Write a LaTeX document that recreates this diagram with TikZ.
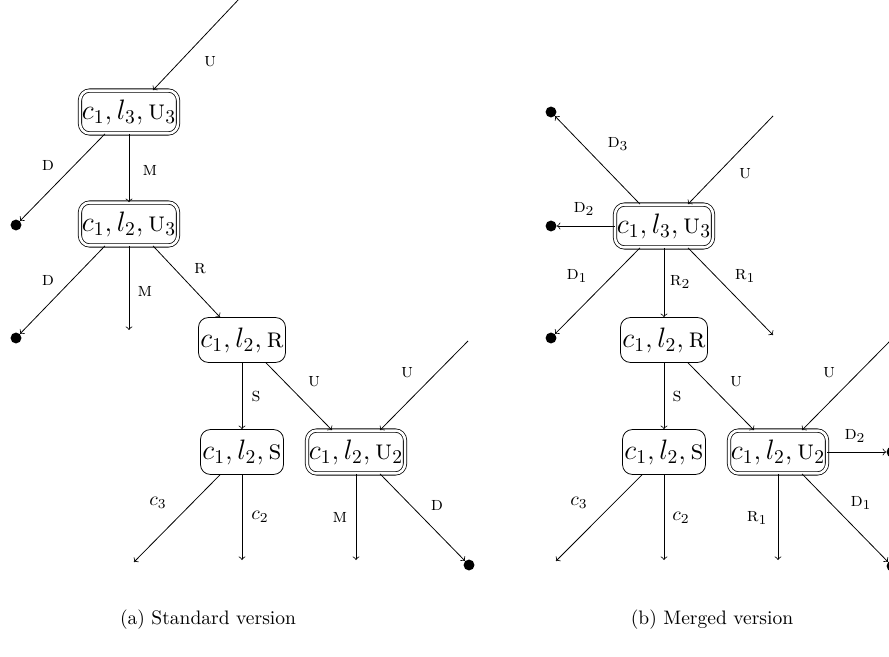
\documentclass[tikz,border=0pt]{standalone}
\usetikzlibrary{calc}
\begin{document}
\begin{tikzpicture}[x=0.018cm,y=-0.018cm,
  state/.style={draw,rounded corners=5pt,inner xsep=1pt,inner ysep=1.5pt,font=\Large,minimum height=23pt},
  accstate/.style={state,double,double distance=1.3pt,minimum height=22pt},
  dot/.style={circle,fill=black,inner sep=0pt,minimum size=5.6pt},
  lab/.style={font=\normalsize,inner sep=0pt},
  captext/.style={font=\normalsize,inner sep=0pt},
  tr/.style={->}]
\useasboundingbox (0,0) rectangle (889,657);
% ---------- left: standard version
\node[accstate] (A) at (129,112) {$c_1,l_3,\textsc{u}_3$};
\node[accstate] (B) at (129,224) {$c_1,l_2,\textsc{u}_3$};
\node[state] (C) at (242,340) {$c_1,l_2,\textsc{r}$};
\node[state] (D) at (242,452) {$c_1,l_2,\textsc{s}$};
\node[accstate] (E) at (356,452) {$c_1,l_2,\textsc{u}_2$};
\node[dot] (dA) at (16,225) {};
\node[dot] (dB) at (16,338) {};
\node[dot] (dE) at (469,565) {};
\coordinate (uA) at (240,-2);
\coordinate (mB) at (129,330);
\coordinate (uE) at (468,341);
\coordinate (c3D) at (134,562);
\coordinate (c2D) at (242,560);
\coordinate (mE) at (356,560);
\draw[tr] (uA) -- ($(A.north)+(24,0)$);
\draw[tr] ($(A.south)+(-24,0)$) -- (dA);
\draw[tr] (A.south) -- (B.north);
\draw[tr] ($(B.south)+(-24,0)$) -- (dB);
\draw[tr] (B.south) -- (mB);
\draw[tr] ($(B.south)+(24,0)$) -- ($(C.north)+(-22,0)$);
\draw[tr] (C.south) -- (D.north);
\draw[tr] ($(C.south)+(24,0)$) -- ($(E.north)+(-24,0)$);
\draw[tr] (uE) -- ($(E.north)+(24,0)$);
\draw[tr] ($(D.south)+(-22,0)$) -- (c3D);
\draw[tr] (D.south) -- (c2D);
\draw[tr] (E.south) -- (mE);
\draw[tr] ($(E.south)+(24,0)$) -- (dE);
\node[lab] (l1) at (210,62) {\textsc{u}};
\node[lab] (l2) at (48,165) {\textsc{d}};
\node[lab] (l3) at (150,170) {\textsc{m}};
\node[lab] (l4) at (48,280) {\textsc{d}};
\node[lab] (l5) at (145,291) {\textsc{m}};
\node[lab] (l6) at (200,269) {\textsc{r}};
\node[lab] (l7) at (256,396) {\textsc{s}};
\node[lab] (l8) at (314,382) {\textsc{u}};
\node[lab] (l9) at (407,373) {\textsc{u}};
\node[lab] (l10) at (158,503) {$c_3$};
\node[lab] (l11) at (260,517) {$c_2$};
\node[lab] (l12) at (340,517) {\textsc{m}};
\node[lab] (l13) at (437,505) {\textsc{d}};
\node[captext] (capa) at (208,620) {(a) Standard version};
% ---------- right: merged version
\node[accstate] (F) at (664,226) {$c_1,l_3,\textsc{u}_3$};
\node[state] (G) at (664,340) {$c_1,l_2,\textsc{r}$};
\node[state] (H) at (664,452) {$c_1,l_2,\textsc{s}$};
\node[accstate] (I) at (778,452) {$c_1,l_2,\textsc{u}_2$};
\node[dot] (dF3) at (551,112) {};
\node[dot] (dF2) at (551,226) {};
\node[dot] (dF1) at (551,338) {};
\node[dot] (dI2) at (892,452) {};
\node[dot] (dI1) at (892,566) {};
\coordinate (uF) at (773,116);
\coordinate (rF) at (773,335);
\coordinate (uI) at (891,340);
\coordinate (c3H) at (556,561);
\coordinate (c2H) at (664,560);
\coordinate (rI) at (778,560);
\draw[tr] ($(F.north)+(-24,0)$) -- (dF3);
\draw[tr] (uF) -- ($(F.north)+(24,0)$);
\draw[tr] (F.west) -- (dF2);
\draw[tr] ($(F.south)+(-24,0)$) -- (dF1);
\draw[tr] (F.south) -- (G.north);
\draw[tr] ($(F.south)+(24,0)$) -- (rF);
\draw[tr] (G.south) -- (H.north);
\draw[tr] ($(G.south)+(24,0)$) -- ($(I.north)+(-24,0)$);
\draw[tr] (uI) -- ($(I.north)+(24,0)$);
\draw[tr] (I.east) -- (dI2);
\draw[tr] ($(H.south)+(-22,0)$) -- (c3H);
\draw[tr] (H.south) -- (c2H);
\draw[tr] (I.south) -- (rI);
\draw[tr] ($(I.south)+(24,0)$) -- (dI1);
\node[lab] (m1) at (618,144) {\textsc{d}$_3$};
\node[lab] (m2) at (745,174) {\textsc{u}};
\node[lab] (m3) at (584,209) {\textsc{d}$_2$};
\node[lab] (m4) at (577,276) {\textsc{d}$_1$};
\node[lab] (m5) at (680,282) {\textsc{r}$_2$};
\node[lab] (m6) at (745,276) {\textsc{r}$_1$};
\node[lab] (m7) at (677,396) {\textsc{s}};
\node[lab] (m8) at (736,382) {\textsc{u}};
\node[lab] (m9) at (829,373) {\textsc{u}};
\node[lab] (m10) at (855,436) {\textsc{d}$_2$};
\node[lab] (m11) at (579,503) {$c_3$};
\node[lab] (m12) at (681,518) {$c_2$};
\node[lab] (m13) at (757,518) {\textsc{r}$_1$};
\node[lab] (m14) at (861,503) {\textsc{d}$_1$};
\node[captext] (capb) at (712,620) {(b) Merged version};
\end{tikzpicture}
\end{document}
